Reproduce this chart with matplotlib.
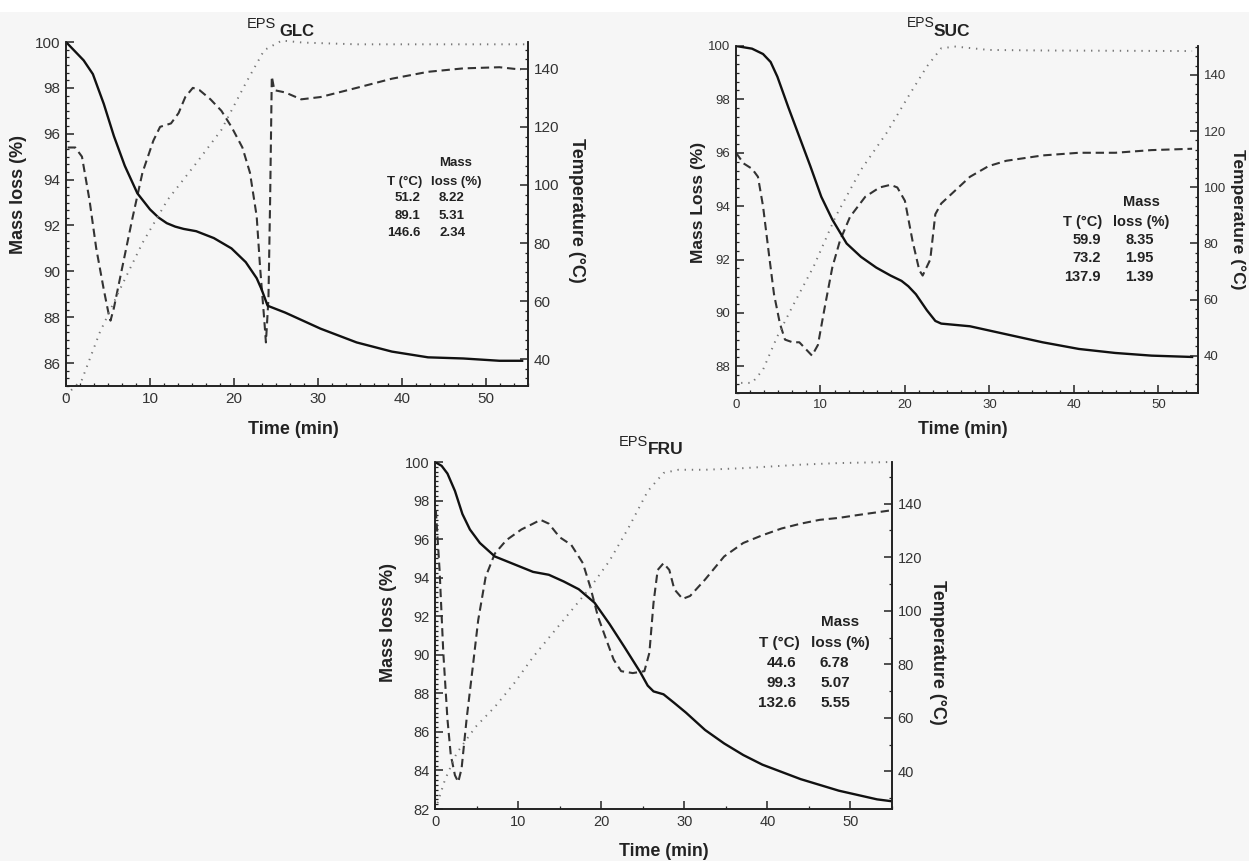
import matplotlib
matplotlib.use("Agg")
import matplotlib.pyplot as plt
from matplotlib.ticker import MultipleLocator, AutoMinorLocator
from matplotlib.patches import Rectangle

plt.rcParams['font.family'] = ['Liberation Sans', 'DejaVu Sans']

W, H = 1249, 861
BG = '#f6f6f6'
INK = '#222222'

# ---------------- EPS GLC ----------------
glc_t_mass = [0, 2.1, 3.2, 4.5, 5.7, 7.0, 8.5, 10, 11, 12, 13, 14, 15.5, 17.6,
              19.7, 21.4, 22.7, 23.3, 23.8, 24.0, 26.1, 28.2, 30.3, 34.6, 38.8,
              43.1, 47.3, 51.6, 54.3]
glc_mass = [100, 99.2, 98.6, 97.3, 95.9, 94.6, 93.4, 92.7, 92.35, 92.1, 91.95,
            91.85, 91.75, 91.45, 91.0, 90.4, 89.7, 89.2, 88.7, 88.5, 88.2,
            87.85, 87.5, 86.9, 86.5, 86.25, 86.2, 86.1, 86.1]
glc_t_dtg = [0.2, 1.1, 1.9, 2.8, 3.6, 4.5, 5.1, 5.3, 5.7, 6.6, 7.9, 9.1, 10.4,
             11.2, 12.5, 13.4, 14.2, 15.1, 15.9, 17.2, 18.5, 19.7, 21.0, 21.9,
             22.7, 23.1, 23.6, 23.8, 24.1, 24.3, 24.5, 24.8, 26.1, 28.0, 30.3,
             34.6, 38.8, 43.1, 47.3, 51.6, 54.1]
glc_dtg = [95.4, 95.4, 95.0, 93.1, 91.0, 89.2, 88.1, 87.85, 88.4, 90.0, 92.3,
           94.3, 95.7, 96.3, 96.45, 96.9, 97.6, 98.0, 97.9, 97.5, 97.0, 96.3,
           95.4, 94.3, 92.4, 90.2, 87.9, 86.9, 88.8, 93.1, 98.5, 97.9, 97.8,
           97.5, 97.6, 98.0, 98.4, 98.7, 98.85, 98.9, 98.8]
glc_t_temp = [0, 1.9, 4.0, 6.2, 9.1, 12.1, 15.5, 18.5, 21.4, 23.6, 25.7, 28.2,
              34.6, 54.9]
glc_temp = [27.5, 32.9, 49.0, 62.7, 80.0, 94.9, 107.5, 119.0, 135.1, 146.5,
            149.8, 149.1, 148.5, 148.5]
glc_peak_T = ['51.2', '89.1', '146.6']
glc_loss = ['8.22', '5.31', '2.34']

# ---------------- EPS SUC ----------------
suc_t_mass = [0, 1.9, 3.2, 4.1, 4.9, 6.2, 7.5, 8.8, 10.1, 11.4, 13.1, 14.8,
              16.6, 18.3, 19.6, 20.4, 21.3, 22.6, 23.6, 24.3, 27.7, 32.0, 36.3,
              40.6, 44.9, 49.2, 54.0]
suc_mass = [100, 99.9, 99.7, 99.4, 98.85, 97.7, 96.6, 95.5, 94.35, 93.5, 92.6,
            92.1, 91.7, 91.4, 91.2, 91.0, 90.7, 90.1, 89.7, 89.6, 89.5, 89.2,
            88.9, 88.65, 88.5, 88.4, 88.35]
suc_t_dtg = [0, 0.9, 1.9, 2.6, 3.2, 3.9, 4.5, 5.2, 5.8, 6.7, 7.5, 8.4, 9.0, 9.7,
             10.5, 11.4, 12.3, 13.5, 15.3, 17.0, 18.3, 19.1, 20.0, 20.9, 21.7,
             22.1, 23.0, 23.6, 24.3, 26.0, 27.7, 29.9, 32.0, 36.3, 40.6, 44.9,
             49.2, 54.0]
suc_dtg = [96.0, 95.6, 95.4, 95.1, 94.0, 92.2, 90.7, 89.6, 89.0, 88.9, 88.9,
           88.6, 88.4, 88.8, 90.2, 91.7, 92.7, 93.6, 94.35, 94.7, 94.8, 94.7,
           94.2, 92.7, 91.6, 91.4, 92.0, 93.7, 94.1, 94.6, 95.1, 95.5, 95.7,
           95.9, 96.0, 96.0, 96.1, 96.15]
suc_t_temp = [0.6, 1.9, 3.2, 4.9, 6.7, 9.2, 11.8, 14.8, 17.8, 20.4, 22.6, 24.3,
              26.0, 29.9, 36.3, 54.0]
suc_temp = [30.3, 30.3, 35.0, 46.9, 57.6, 71.8, 89.6, 106.2, 119.2, 132.3,
            143.0, 149.5, 150.1, 148.9, 148.7, 148.5]
suc_peak_T = ['59.9', '73.2', '137.9']
suc_loss = ['8.35', '1.95', '1.39']

# ---------------- EPS FRU ----------------
fru_t_mass = [0, 0.8, 1.5, 2.4, 3.3, 4.2, 5.4, 7.2, 9.5, 11.8, 13.7, 15.5, 17.3,
              19.2, 21.0, 22.8, 24.7, 25.6, 26.3, 27.5, 28.8, 30.2, 32.5, 34.8,
              37.1, 39.4, 44.0, 48.6, 53.2, 55]
fru_mass = [100, 99.8, 99.4, 98.5, 97.3, 96.5, 95.8, 95.1, 94.7, 94.3, 94.15,
            93.8, 93.4, 92.7, 91.6, 90.4, 89.1, 88.4, 88.1, 87.95, 87.5, 87.0,
            86.1, 85.4, 84.8, 84.3, 83.55, 82.95, 82.5, 82.4]
fru_t_dtg = [0.1, 0.55, 1.0, 1.5, 1.9, 2.4, 2.8, 3.2, 3.8, 4.5, 5.2, 6.1, 7.2,
             8.6, 10.4, 11.8, 12.7, 13.7, 15.0, 16.4, 17.8, 18.7, 19.6, 20.6,
             21.5, 22.4, 23.8, 25.2, 25.8, 26.3, 26.8, 27.5, 28.2, 28.8, 29.8,
             30.7, 32.5, 34.8, 37.1, 39.4, 41.7, 44.0, 46.3, 48.6, 50.9, 55]
fru_dtg = [97.5, 94.4, 90.1, 86.65, 84.8, 83.75, 83.4, 84.1, 86.65, 89.2, 91.8,
           94.05, 95.25, 95.95, 96.5, 96.8, 97.0, 96.8, 96.1, 95.7, 94.75, 93.5,
           92.0, 90.8, 89.75, 89.15, 89.05, 89.15, 90.1, 92.7, 94.4, 94.75,
           94.4, 93.4, 92.9, 93.05, 93.9, 95.1, 95.8, 96.2, 96.55, 96.8, 97.0,
           97.1, 97.25, 97.5]
fru_t_temp = [0.3, 1.2, 2.6, 4.9, 7.2, 9.5, 11.8, 14.1, 16.4, 18.7, 21.0, 23.3,
              25.6, 27.5, 29.3, 32.5, 37.1, 44.0, 48.6, 55]
fru_temp = [28.2, 36.9, 46.8, 56.7, 64.1, 72.8, 82.7, 91.4, 100.0, 108.7, 118.6,
            131.0, 144.6, 151.4, 152.6, 152.6, 153.2, 154.5, 155.1, 155.5]
fru_peak_T = ['44.6', '99.3', '132.6']
fru_loss = ['6.78', '5.07', '5.55']


def px(x, y):
    """pixel position (from top-left) -> figure fraction"""
    return x / W, 1 - y / H


def ftext(x, y, s, **kw):
    fx, fy = px(x, y)
    kw.setdefault('color', INK)
    return fig.text(fx, fy, s, **kw)


def panel(box, xlim, ylim, tlim, t_mass, mass, t_dtg, dtg, t_temp, temp,
          fs, xmaj, xmin_n, ymin_n, tmin_n):
    left, top, right, bottom = box
    ax = fig.add_axes([left / W, 1 - bottom / H, (right - left) / W,
                       (bottom - top) / H])
    ax.set_facecolor(BG)
    ax2 = ax.twinx()
    ax.plot(t_mass, mass, color='#111111', lw=1.7, zorder=3)
    ax.plot(t_dtg, dtg, color='#333333', lw=1.5, ls=(0, (4, 2.3)), zorder=2)
    ax2.plot(t_temp, temp, color='#777777', lw=1.4, ls=(0, (0.7, 3.0)),
             clip_on=False)
    ax.set_xlim(*xlim)
    ax.set_ylim(*ylim)
    ax2.set_ylim(*tlim)
    ax.xaxis.set_major_locator(MultipleLocator(xmaj))
    ax.xaxis.set_minor_locator(AutoMinorLocator(xmin_n))
    ax.yaxis.set_major_locator(MultipleLocator(2))
    ax.yaxis.set_minor_locator(AutoMinorLocator(ymin_n))
    ax2.yaxis.set_major_locator(MultipleLocator(20))
    ax2.yaxis.set_minor_locator(AutoMinorLocator(tmin_n))
    ax2.set_yticks([v for v in range(40, 160, 20) if tlim[0] < v < tlim[1]])
    for a in (ax, ax2):
        a.spines['top'].set_visible(False)
        for s in a.spines.values():
            s.set_color(INK)
            s.set_linewidth(1.2)
        a.tick_params(which='major', direction='in', length=5.5, width=1.1,
                      labelsize=fs, labelcolor='#333333', color=INK, pad=4)
        a.tick_params(which='minor', direction='in', length=2.5, width=0.9,
                      color=INK)
    ax.tick_params(top=False, right=False)
    return ax, ax2


def table(xc_T, xr_T, xl_L, xc_L, y_mass, y_head, ys, peaks, losses, fs):
    ftext(xc_L, y_mass, 'Mass', ha='center', va='center', fontsize=fs,
          weight='bold')
    ftext(xc_T, y_head, 'T (°C)', ha='center', va='center', fontsize=fs,
          weight='bold')
    ftext(xc_L, y_head, 'loss (%)', ha='center', va='center', fontsize=fs,
          weight='bold')
    for y, p, l in zip(ys, peaks, losses):
        ftext(xr_T, y, p, ha='right', va='center', fontsize=fs, weight='bold')
        ftext(xl_L, y, l, ha='left', va='center', fontsize=fs, weight='bold')


fig = plt.figure(figsize=(W / 100, H / 100), dpi=100, facecolor=BG)
fig.patches.append(Rectangle((0, 1 - 12 / H), 1, 12 / H, transform=fig.transFigure,
                             facecolor='white', edgecolor='none', zorder=-1))

# EPS GLC (top left)
panel((66, 42, 528, 386), (0, 55), (85, 100), (30.7, 149.3),
      glc_t_mass, glc_mass, glc_t_dtg, glc_dtg, glc_t_temp, glc_temp,
      11, 10, 6, 6, 6)
ftext(247, 24, 'EPS', ha='left', va='center', fontsize=10.5)
ftext(279, 31, 'GLC', ha='left', va='center', fontsize=12, weight='bold')
ftext(19, 194, 'Mass loss (%)', rotation=90, ha='center', va='center',
      fontsize=13, weight='bold')
ftext(576, 210, 'Temperature (°C)', rotation=270, ha='center', va='center',
      fontsize=13, weight='bold')
ftext(293, 429, 'Time (min)', ha='center', va='center', fontsize=13,
      weight='bold')
table(405, 420, 439, 456, 163, 182, [198, 216, 233], glc_peak_T, glc_loss, 9.5)

# EPS SUC (top right)
panel((736, 46, 1198, 393), (0, 54.7), (87, 100), (26.7, 150.3),
      suc_t_mass, suc_mass, suc_t_dtg, suc_dtg, suc_t_temp, suc_temp,
      9.5, 10, 6, 6, 6)
ftext(907, 23, 'EPS', ha='left', va='center', fontsize=10)
ftext(934, 32, 'SUC', ha='left', va='center', fontsize=12.5, weight='bold')
ftext(698, 202, 'Mass Loss (%)', rotation=90, ha='center', va='center',
      fontsize=12.5, weight='bold')
ftext(1238, 219, 'Temperature (°C)', rotation=270, ha='center', va='center',
      fontsize=12.5, weight='bold')
ftext(963, 430, 'Time (min)', ha='center', va='center', fontsize=12.8,
      weight='bold')
table(1083, 1101, 1125, 1141, 202, 222, [240, 258, 277], suc_peak_T, suc_loss,
      10.5)

# EPS FRU (bottom centre)
panel((435, 462, 892, 809), (0, 55), (82, 100), (26, 155.5),
      fru_t_mass, fru_mass, fru_t_dtg, fru_dtg, fru_t_temp, fru_temp,
      10.5, 10, 2, 8, 2)
ftext(619, 442, 'EPS', ha='left', va='center', fontsize=10.5)
ftext(648, 449, 'FRU', ha='left', va='center', fontsize=12.5, weight='bold')
ftext(388, 622, 'Mass loss (%)', rotation=90, ha='center', va='center',
      fontsize=13, weight='bold')
ftext(937, 652, 'Temperature (°C)', rotation=270, ha='center', va='center',
      fontsize=13, weight='bold')
ftext(664, 852, 'Time (min)', ha='center', va='center', fontsize=12.8,
      weight='bold')
table(779, 796, 820, 840, 622, 643, [663, 683, 703], fru_peak_T, fru_loss, 11)

fig.savefig('out.png', dpi=100, facecolor=BG)
